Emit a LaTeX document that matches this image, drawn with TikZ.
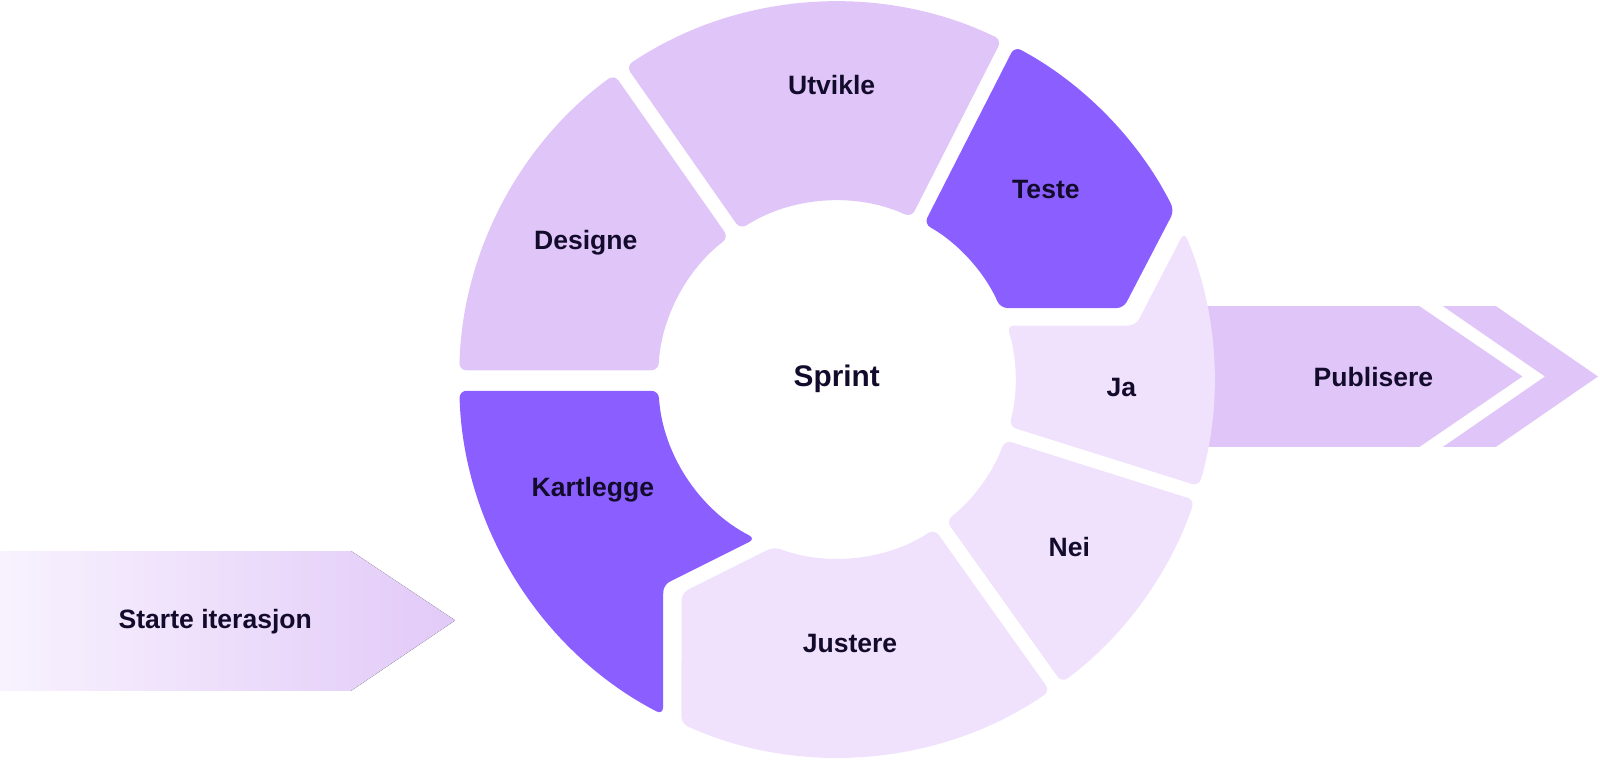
\documentclass[tikz,border=0pt]{standalone}
\usepackage{fontspec}
\setmainfont{Liberation Sans}
\definecolor{lav}{HTML}{E0C6F8}
\definecolor{pale}{HTML}{F0E2FC}
\definecolor{violet}{HTML}{8B5FFF}
\definecolor{ink}{HTML}{130B2B}
\definecolor{startL}{HTML}{F8F2FE}
\definecolor{startR}{HTML}{E2CAF8}
\newcommand\Ro{3.7}
\newcommand\Ri{1.75}
\begin{document}
\begin{tikzpicture}[
	seg/.style={rounded corners=2pt},
	lbl/.style={font=\fontsize{7.4}{9}\selectfont\bfseries, text=ink},
	]
	\useasboundingbox (-8.2,-3.74) rectangle (7.48,3.72);
	
	% arrows in and out
	\fill[left color=startL, right color=startR] (-8.2,-1.68)--(-4.76,-1.68)--(-3.74,-2.36)--(-4.76,-3.05)--(-8.2,-3.05)--cycle;
	\fill[lav] (3.3,0.72)--(5.71,0.72)--(6.72,0.03)--(5.71,-0.66)--(3.3,-0.66)--cycle;
	\fill[lav] (5.94,0.72)--(6.46,0.72)--(7.46,0.03)--(6.46,-0.66)--(5.94,-0.66)--(6.94,0.03)--cycle;
	
	% ring
	\fill[lav, seg] (178.6:\Ro) arc[start angle=178.6, end angle=126.1, radius=\Ro]
		-- (127.3:\Ri) arc[start angle=127.3, end angle=177.05, radius=\Ri] -- cycle;
	\fill[lav, seg] (123.9:\Ro) arc[start angle=123.9, end angle=64.1, radius=\Ro]
		-- (65.3:\Ri) arc[start angle=65.3, end angle=122.7, radius=\Ri] -- cycle;
	\fill[violet, seg] (61.9:\Ro) arc[start angle=61.9, end angle=26.6, radius=\Ro]
		-- (2.81,0.70) -- (23.6:\Ri) arc[start angle=23.6, end angle=60.7, radius=\Ri] -- cycle;
	\fill[pale, seg] (2.93,0.53) -- (23.0:\Ro) arc[start angle=23.0, end angle=-16.4, radius=\Ro]
		-- (-15.2:\Ri) arc[start angle=-15.2, end angle=17.6, radius=\Ri] -- cycle;
	\fill[pale, seg] (-18.6:\Ro) arc[start angle=-18.6, end angle=-53.4, radius=\Ro]
		-- (-52.2:\Ri) arc[start angle=-52.2, end angle=-19.8, radius=\Ri] -- cycle;
	\fill[pale, seg] (-1.52,-2.09) -- (-110.6:\Ri) arc[start angle=-110.6, end angle=-56.8, radius=\Ri]
		-- (-55.6:\Ro) arc[start angle=-55.6, end angle=-114.3, radius=\Ro] -- cycle;
	\fill[violet, seg] (183.6:\Ri) arc[start angle=183.6, end angle=243, radius=\Ri]
		-- (-1.70,-2.012) -- (242.6:\Ro) arc[start angle=242.6, end angle=181.7, radius=\Ro] -- cycle;
	
	% labels
	\node[lbl] (utvikle) at (-0.05,2.89) {Utvikle};
	\node[lbl] (teste) at (2.05,1.86) {Teste};
	\node[lbl] (designe) at (-2.46,1.34) {Designe};
	\node[lbl, font=\fontsize{8.3}{10}\selectfont\bfseries] (sprint) at (0,0.01) {Sprint};
	\node[lbl] (ja) at (2.79,-0.08) {Ja};
	\node[lbl] (publisere) at (5.26,0.03) {Publisere};
	\node[lbl] (kartlegge) at (-2.39,-1.08) {Kartlegge};
	\node[lbl] (nei) at (2.28,-1.64) {Nei};
	\node[lbl] (justere) at (0.13,-2.59) {Justere};
	\node[lbl] (starte) at (-6.09,-2.37) {Starte iterasjon};
\end{tikzpicture}
\end{document}
